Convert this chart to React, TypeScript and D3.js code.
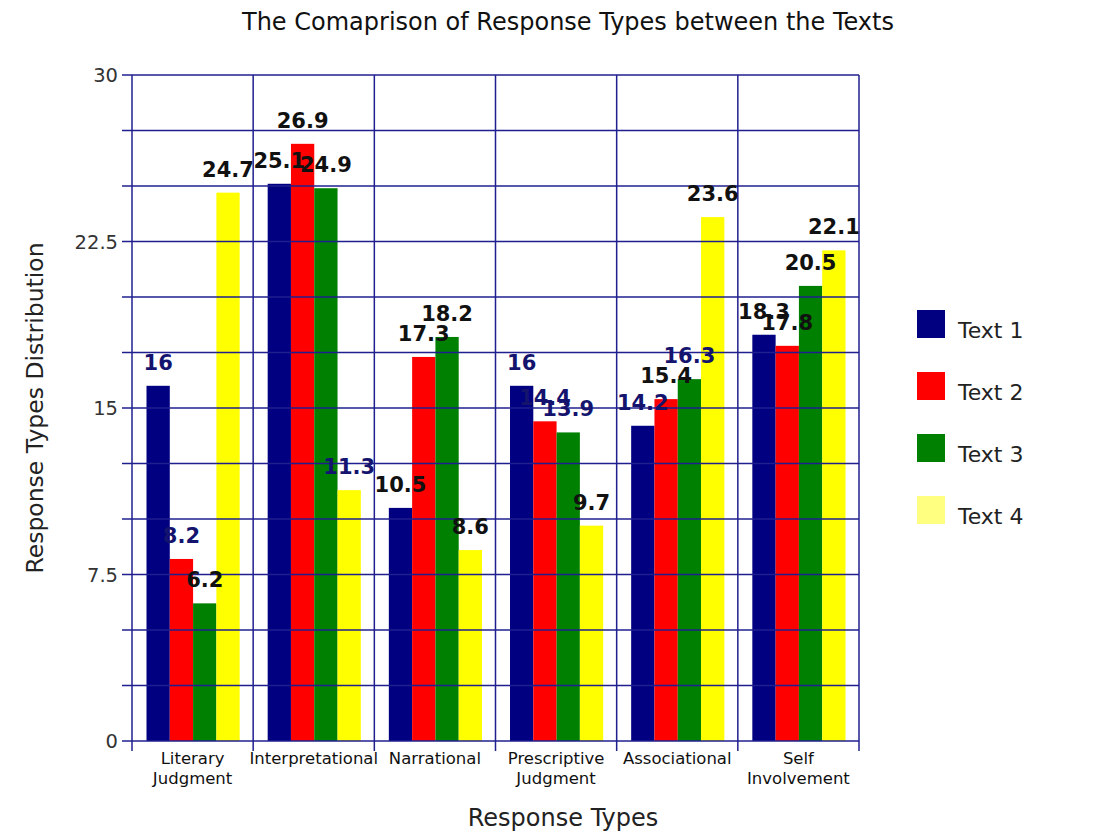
import React, { useEffect, useRef } from 'react';
import * as d3 from 'd3';

const TITLE = 'The Comaprison of Response Types between the Texts';
const CATEGORIES = [
  ['Literary', 'Judgment'],
  ['Interpretational'],
  ['Narrational'],
  ['Prescriptive', 'Judgment'],
  ['Associational'],
  ['Self', 'Involvement'],
];
const SERIES = ['Text 1', 'Text 2', 'Text 3', 'Text 4'];
const TEXT1 = [16, 25.1, 10.5, 16, 14.2, 18.3];
const TEXT2 = [8.2, 26.9, 17.3, 14.4, 15.4, 17.8];
const TEXT3 = [6.2, 24.9, 18.2, 13.9, 16.3, 20.5];
const TEXT4 = [24.7, 11.3, 8.6, 9.7, 23.6, 22.1];
const Y_TICKS = [0, 7.5, 15, 22.5, 30];

const COLORS = ['#000080', '#ff0000', '#008000', '#ffff00'];
const LEGEND_COLORS = ['#000080', '#ff0000', '#008000', '#ffff80'];
// labels that came out navy in the original render (series-category)
const NAVY_LABELS = new Set(['0-0', '1-0', '3-1', '0-3', '1-3', '2-3', '0-4', '2-4']);

const FONT = '"DejaVu Sans", Verdana, sans-serif';
const GRID = '#1f1f8f';

export default function App() {
  const svgRef = useRef<SVGSVGElement | null>(null);

  useEffect(() => {
    const svgEl = svgRef.current;
    if (!svgEl) return;
    const svg = d3.select(svgEl);
    svg.selectAll('*').remove();

    const width = 1108;
    const height = 838;
    const left = 132;
    const right = 859;
    const top = 75;
    const bottom = 741;

    const values = [TEXT1, TEXT2, TEXT3, TEXT4];
    const catIdx = CATEGORIES.map((_, i) => i);

    const x = d3.scaleBand<number>().domain(catIdx).range([left, right]).padding(0);
    const xInner = d3
      .scaleBand<number>()
      .domain(SERIES.map((_, i) => i))
      .range([14.5, x.bandwidth() - 13.5])
      .padding(0);
    const y = d3.scaleLinear().domain([0, 30]).range([bottom, top]);

    svg.append('rect').attr('width', width).attr('height', height).attr('fill', '#fff');

    // Title
    svg
      .append('text')
      .attr('x', 568)
      .attr('y', 30)
      .attr('text-anchor', 'middle')
      .attr('font-family', FONT)
      .attr('font-size', 24)
      .attr('fill', '#111')
      .text(TITLE);

    // Bars (drawn under the grid)
    const bars = svg.append('g');
    values.forEach((series, s) => {
      bars
        .selectAll(`rect.s${s}`)
        .data(series)
        .enter()
        .append('rect')
        .attr('class', `s${s}`)
        .attr('x', (_, i) => (x(i) as number) + (xInner(s) as number))
        .attr('width', xInner.bandwidth())
        .attr('y', d => y(d))
        .attr('height', d => y(0) - y(d))
        .attr('fill', COLORS[s]);
    });

    // Grid
    const grid = svg.append('g').attr('stroke', GRID).attr('stroke-width', 1.5).attr('fill', 'none');
    d3.range(0, 30.01, 2.5).forEach(v => {
      grid.append('line').attr('x1', left - 10).attr('x2', right).attr('y1', y(v)).attr('y2', y(v));
    });
    grid.append('line').attr('x1', left).attr('x2', left).attr('y1', top).attr('y2', bottom + 10);
    catIdx.forEach(i => {
      const xx = (x(i) as number) + x.bandwidth();
      grid.append('line').attr('x1', xx).attr('x2', xx).attr('y1', top).attr('y2', bottom + 10);
    });

    // Y tick labels
    svg
      .append('g')
      .selectAll('text')
      .data(Y_TICKS)
      .enter()
      .append('text')
      .attr('x', 118)
      .attr('y', d => y(d) + 7)
      .attr('text-anchor', 'end')
      .attr('font-family', FONT)
      .attr('font-size', 19.5)
      .attr('fill', '#333')
      .text(d => String(d));

    // Category labels
    const catG = svg.append('g');
    CATEGORIES.forEach((lines, i) => {
      const t = catG
        .append('text')
        .attr('x', (x(i) as number) + x.bandwidth() / 2)
        .attr('y', 764)
        .attr('text-anchor', 'middle')
        .attr('font-family', FONT)
        .attr('font-size', 16.5)
        .attr('fill', '#111');
      lines.forEach((ln, k) => {
        t.append('tspan')
          .attr('x', (x(i) as number) + x.bandwidth() / 2)
          .attr('dy', k === 0 ? 0 : 20)
          .text(ln);
      });
    });

    // Value labels
    const lab = svg.append('g');
    values.forEach((series, s) => {
      series.forEach((v, i) => {
        lab
          .append('text')
          .attr('x', (x(i) as number) + (xInner(s) as number) + xInner.bandwidth() / 2)
          .attr('y', y(v) - 16)
          .attr('text-anchor', 'middle')
          .attr('font-family', FONT)
          .attr('font-weight', 'bold')
          .attr('font-size', 21)
          .attr('fill', NAVY_LABELS.has(`${s}-${i}`) ? '#14146e' : '#111')
          .text(String(v));
      });
    });

    // Axis titles
    svg
      .append('text')
      .attr('x', 563)
      .attr('y', 826)
      .attr('text-anchor', 'middle')
      .attr('font-family', FONT)
      .attr('font-size', 24)
      .attr('fill', '#222')
      .text('Response Types');

    svg
      .append('text')
      .attr('transform', `translate(43, ${(top + bottom) / 2}) rotate(-90)`)
      .attr('text-anchor', 'middle')
      .attr('font-family', FONT)
      .attr('font-size', 23.5)
      .attr('fill', '#222')
      .text('Response Types Distribution');

    // Legend
    const legend = svg.append('g');
    SERIES.forEach((name, s) => {
      const yy = 310 + s * 62;
      legend
        .append('rect')
        .attr('x', 917)
        .attr('y', yy)
        .attr('width', 28)
        .attr('height', 28)
        .attr('fill', LEGEND_COLORS[s]);
      legend
        .append('text')
        .attr('x', 958)
        .attr('y', yy + 28)
        .attr('font-family', FONT)
        .attr('font-size', 22)
        .attr('fill', '#222')
        .text(name);
    });
  }, []);

  return (
    <svg
      ref={svgRef}
      width={1108}
      height={838}
      style={{ position: 'absolute', left: 0, top: 0, display: 'block' }}
    />
  );
}
